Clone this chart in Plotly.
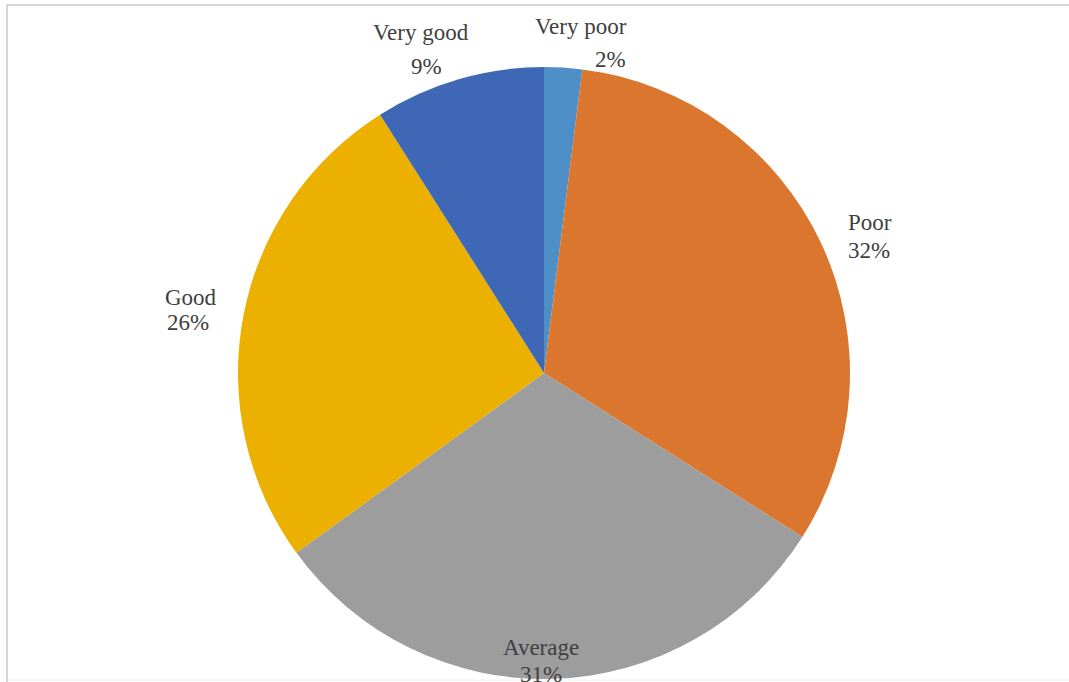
import plotly.graph_objects as go

# Survey ratings and their shares (percent)
categories = ["Very poor", "Poor", "Average", "Good", "Very good"]
shares = [2, 32, 31, 26, 9]
slice_colors = ["#4f8fc8", "#db762f", "#9d9d9d", "#ebb000", "#3e68b5"]

W, H = 1069, 682


def px_x(x):
    return x / W


def px_y(y):
    return 1 - y / H


# Pie geometry in pixels
cx, cy, r = 544, 373, 306

fig = go.Figure(
    go.Pie(
        labels=categories,
        values=shares,
        sort=False,
        direction="clockwise",
        rotation=0,
        marker=dict(colors=slice_colors, line=dict(width=0)),
        textinfo="none",
        hoverinfo="label+percent",
        showlegend=False,
        domain=dict(
            x=[px_x(cx - r), px_x(cx + r)],
            y=[px_y(cy + r), px_y(cy - r)],
        ),
    )
)

# Label placement: (name x, name y, pct x, pct y, anchor)
label_layout = {
    "Very poor": (629, 27, 628, 59, "right"),
    "Poor": (846, 223, 846, 250, "left"),
    "Average": (541, 647, 541, 674, "center"),
    "Good": (163, 297, 165, 322, "left"),
    "Very good": (421, 33, 426, 66, "center"),
}

font = dict(family="Times New Roman, Liberation Serif, serif", size=23, color="#404040")
annotations = []
for name, val in zip(categories, shares):
    nx, ny, vx, vy, anchor = label_layout[name]
    for text, x, y in ((name, nx, ny), (f"{val}%", vx, vy)):
        annotations.append(
            dict(
                text=text, x=px_x(x), y=px_y(y), xref="paper", yref="paper",
                xanchor=anchor, yanchor="middle", showarrow=False, font=font,
            )
        )

# Light frame along the top and left edges
frame = "#d6d6d6"
shapes = [
    dict(type="line", xref="paper", yref="paper", x0=px_x(7), x1=px_x(7),
         y0=px_y(5), y1=px_y(682), line=dict(color=frame, width=2)),
    dict(type="line", xref="paper", yref="paper", x0=px_x(6), x1=1,
         y0=px_y(5), y1=px_y(5), line=dict(color=frame, width=2)),
    dict(type="line", xref="paper", yref="paper", x0=px_x(8), x1=1,
         y0=px_y(680), y1=px_y(680), line=dict(color="#f2f2f2", width=1)),
]

fig.update_layout(
    width=W, height=H,
    margin=dict(l=0, r=0, t=0, b=0),
    paper_bgcolor="white", plot_bgcolor="white",
    annotations=annotations, shapes=shapes,
)

fig.write_html("out.html", config={"displayModeBar": False})
